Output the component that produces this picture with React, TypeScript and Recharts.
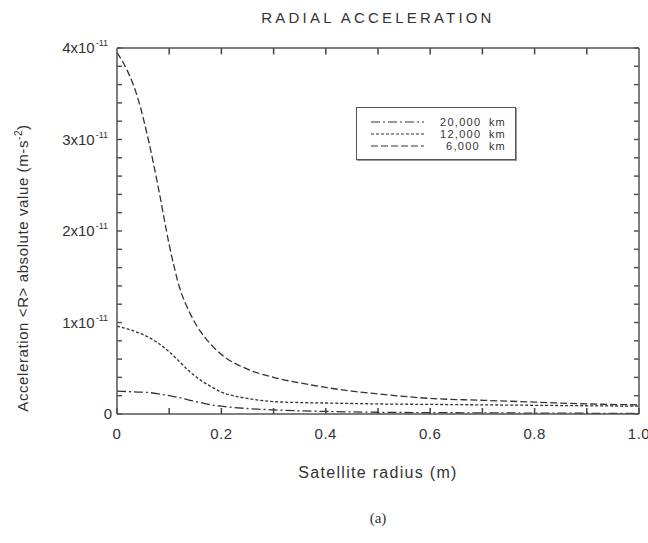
import { Line, LineChart, ReferenceLine, XAxis, YAxis } from "recharts";

// satellite radius (m)
const RADIUS = [
  0, 0.02, 0.04, 0.06, 0.08, 0.1, 0.12, 0.14, 0.16, 0.18, 0.2, 0.25, 0.3, 0.35,
  0.4, 0.45, 0.5, 0.6, 0.7, 0.8, 0.9, 1.0,
];
// |<R>| in units of 1e-11 m/s^2
const ACC_6000 = [
  3.95, 3.75, 3.45, 3.0, 2.45, 1.85, 1.38, 1.1, 0.9, 0.76, 0.65, 0.49, 0.4,
  0.34, 0.29, 0.25, 0.22, 0.17, 0.15, 0.13, 0.11, 0.1,
];
const ACC_12000 = [
  0.96, 0.93, 0.89, 0.84, 0.77, 0.68, 0.57, 0.46, 0.37, 0.3, 0.24, 0.17, 0.135,
  0.125, 0.12, 0.115, 0.11, 0.105, 0.1, 0.095, 0.09, 0.085,
];
const ACC_20000 = [
  0.25, 0.245, 0.24, 0.235, 0.22, 0.2, 0.18, 0.15, 0.125, 0.1, 0.085, 0.06,
  0.045, 0.035, 0.028, 0.023, 0.019, 0.015, 0.012, 0.01, 0.008, 0.006,
];

const X_TICKS = [0, 0.1, 0.2, 0.3, 0.4, 0.5, 0.6, 0.7, 0.8, 0.9, 1.0];
const X_INNER_TICKS = [0.1, 0.2, 0.3, 0.4, 0.5, 0.6, 0.7, 0.8, 0.9];
const X_LABELED = [0, 0.2, 0.4, 0.6, 0.8, 1.0];
const X_LABELS = ["0", "0.2", "0.4", "0.6", "0.8", "1.0"];
const Y_TICKS = [
  0, 0.2, 0.4, 0.6, 0.8, 1, 1.2, 1.4, 1.6, 1.8, 2, 2.2, 2.4, 2.6, 2.8, 3, 3.2,
  3.4, 3.6, 3.8, 4,
];
const Y_LABELED = [0, 1, 2, 3, 4];

const SERIES = [
  { key: "a20000", name: "20,000", dash: "9 3 2 3" },
  { key: "a12000", name: "12,000", dash: "3 2" },
  { key: "a6000", name: "6,000", dash: "7 3" },
];

const data = RADIUS.map((r, i) => ({
  r,
  a6000: ACC_6000[i],
  a12000: ACC_12000[i],
  a20000: ACC_20000[i],
}));

const INK = "#333";
const FRAME = "#555";
const FONT = "'Liberation Sans', Arial, sans-serif";
const Y_MIN = 0;
const Y_MAX = 4;
const TICK_LEN = 0.07; // inward tick length on the top frame, in y units

function XTick({ x, y, payload }: any) {
  const i = X_LABELED.indexOf(payload.value);
  if (i < 0) return <g />;
  return (
    <text
      x={x}
      y={y}
      dy="0.71em"
      textAnchor="middle"
      fontSize={15}
      letterSpacing={0.5}
      fill={INK}
      fontFamily={FONT}
    >
      {X_LABELS[i]}
    </text>
  );
}

function YTick({ x, y, payload }: any) {
  const v = payload.value;
  if (!Y_LABELED.includes(v)) return <g />;
  if (v === 0) {
    return (
      <text x={x + 4} y={y} dy={5} textAnchor="end" fontSize={15} fill={INK} fontFamily={FONT}>
        0
      </text>
    );
  }
  return (
    <text x={x} y={y} dy={5} textAnchor="end" fontSize={15} fill={INK} fontFamily={FONT}>
      {v}x10
      <tspan dx={1} dy={-7} fontSize={9}>
        -11
      </tspan>
    </text>
  );
}

function LegendBox() {
  return (
    <div
      style={{
        position: "absolute",
        left: 356,
        top: 107,
        width: 160,
        height: 53,
        boxSizing: "border-box",
        border: `1px solid ${FRAME}`,
        boxShadow: "1px 1px 0 #999",
        paddingTop: 8,
        fontSize: 11,
        lineHeight: "12px",
        color: INK,
      }}
    >
      {SERIES.map((s) => (
        <div key={s.key} style={{ display: "flex", alignItems: "center", height: 12 }}>
          <svg width={70} height={12} style={{ marginLeft: 13 }}>
            <line x1={1} x2={54} y1={6} y2={6} stroke={INK} strokeWidth={1.2} strokeDasharray={s.dash} />
          </svg>
          <span style={{ width: 40, textAlign: "right", letterSpacing: 1.3 }}>{s.name}</span>
          <span style={{ marginLeft: 9, letterSpacing: 1 }}>km</span>
        </div>
      ))}
    </div>
  );
}

export default function App() {
  return (
    <div
      style={{
        position: "absolute",
        left: 0,
        top: 0,
        width: 648,
        height: 543,
        background: "#fff",
        fontFamily: FONT,
        color: INK,
      }}
    >
      <div
        style={{
          position: "absolute",
          left: 117,
          width: 522,
          top: 9,
          textAlign: "center",
          fontSize: 15,
          letterSpacing: 3.2,
        }}
      >
        RADIAL ACCELERATION
      </div>
      <div
        style={{
          position: "absolute",
          left: 22,
          top: 268,
          transform: "translate(-50%, -50%) rotate(-90deg)",
          whiteSpace: "nowrap",
          fontSize: 15,
          letterSpacing: 0.6,
        }}
      >
        {"Acceleration <R> absolute value (m-s"}
        <sup style={{ fontSize: 10 }}>-2</sup>)
      </div>
      <LineChart
        width={648}
        height={543}
        data={data}
        margin={{ top: 47, right: 8, left: 57, bottom: 99 }}
      >
        <XAxis
          dataKey="r"
          type="number"
          domain={[0, 1]}
          ticks={X_TICKS}
          height={30}
          tickSize={-6}
          tickMargin={20}
          tickLine={{ stroke: "#444", strokeWidth: 1.5 }}
          tick={<XTick />}
          stroke={FRAME}
          strokeWidth={1.5}
          interval={0}
        />
        <XAxis
          xAxisId="top"
          dataKey="r"
          orientation="top"
          type="number"
          domain={[0, 1]}
          height={1}
          tick={false}
          tickLine={false}
          stroke={FRAME}
          strokeWidth={1.5}
        />
        <YAxis
          type="number"
          domain={[Y_MIN, Y_MAX]}
          ticks={Y_TICKS}
          width={60}
          tickSize={-5}
          tickMargin={14}
          tick={<YTick />}
          stroke={FRAME}
          strokeWidth={1.5}
          interval={0}
        />
        <YAxis
          yAxisId="right"
          orientation="right"
          type="number"
          domain={[Y_MIN, Y_MAX]}
          allowDataOverflow
          ticks={Y_TICKS}
          width={1}
          tickSize={-5}
          tick={() => <g />}
          stroke={FRAME}
          strokeWidth={1.5}
          interval={0}
        />
        {X_INNER_TICKS.map((v) => (
          <ReferenceLine
            key={`t${v}`}
            ifOverflow="visible"
            segment={[
              { x: v, y: Y_MAX },
              { x: v, y: Y_MAX - TICK_LEN },
            ]}
            stroke="#444"
            strokeWidth={1.5}
          />
        ))}
        {SERIES.map((s) => (
          <Line
            key={s.key}
            dataKey={s.key}
            type="monotone"
            stroke={INK}
            strokeWidth={1.3}
            strokeDasharray={s.dash}
            dot={false}
            isAnimationActive={false}
          />
        ))}
      </LineChart>
      <LegendBox />
      <div
        style={{
          position: "absolute",
          left: 117,
          width: 522,
          top: 464,
          textAlign: "center",
          fontSize: 16,
          letterSpacing: 1.3,
        }}
      >
        Satellite radius (m)
      </div>
      <div
        style={{
          position: "absolute",
          left: 117,
          width: 522,
          top: 510,
          textAlign: "center",
          fontSize: 15,
          fontFamily: "'Liberation Serif', serif",
        }}
      >
        (a)
      </div>
    </div>
  );
}
